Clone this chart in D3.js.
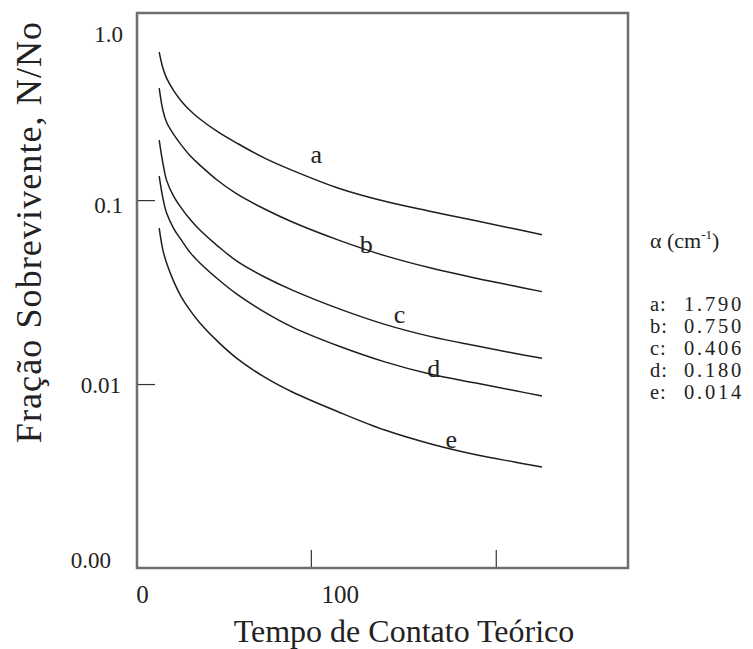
<!DOCTYPE html>
<html>
<head>
<meta charset="utf-8">
<script src="https://cdn.jsdelivr.net/npm/d3@7"></script>
<style>
  body { margin: 0; background: #fff; }
  svg text { font-family: "Liberation Serif", serif; fill: #222; }
</style>
</head>
<body>
<div id="chart"></div>
<script>
// contact time samples (x) shared by every curve
const time = [18, 20, 22, 26, 30, 35, 40, 50, 60, 75, 90, 115, 140, 165, 190, 210, 225];

// surviving fraction N/No
const seriesA = [0.637, 0.522, 0.460, 0.391, 0.345, 0.305, 0.276, 0.234, 0.204, 0.169, 0.145, 0.116, 0.0985, 0.0868, 0.0769, 0.0698, 0.0648];
const seriesB = [0.406, 0.308, 0.265, 0.226, 0.199, 0.173, 0.155, 0.127, 0.108, 0.0894, 0.0760, 0.0606, 0.0499, 0.0427, 0.0375, 0.0341, 0.0318];
const seriesC = [0.212, 0.159, 0.128, 0.104, 0.0905, 0.0779, 0.0687, 0.0559, 0.0466, 0.0382, 0.0324, 0.0257, 0.0211, 0.0181, 0.0161, 0.0147, 0.0138];
const seriesD = [0.135, 0.1025, 0.0850, 0.0696, 0.0606, 0.0515, 0.0455, 0.0370, 0.0308, 0.0246, 0.0204, 0.0161, 0.0132, 0.0113, 0.0101, 0.00922, 0.00861];
const seriesE = [0.0704, 0.0535, 0.0455, 0.0358, 0.0297, 0.0249, 0.0215, 0.0169, 0.0138, 0.0109, 0.00905, 0.00705, 0.00562, 0.00472, 0.00411, 0.00377, 0.00354];

const seriesNames = ["a", "b", "c", "d", "e"];
const alphaValues = ["1.790", "0.750", "0.406", "0.180", "0.014"];

// where each letter sits on its curve (data units)
const labelTime = [103, 130, 148, 166.5, 176];
const labelValue = [0.16, 0.0515, 0.0215, 0.0109, 0.00449];

const yTickValues = [0.1, 0.01];
const yLabelValues = [1, 0.1, 0.01, 0.001];
const yLabelText = ["1.0", "0.1", "0.01", "0.00"];
const xTickValues = [100, 200];
const xLabelValues = [0, 100];

const width = 753, height = 649;
const plot = { left: 137, right: 628, top: 13, bottom: 568 };
const serif = "Liberation Serif";

const x = d3.scaleLinear().domain([6, 271.5]).range([plot.left, plot.right]);
const y = d3.scaleLog().domain([0.001, 1.04]).range([plot.bottom, plot.top]);

const svg = d3.select("#chart").append("svg")
  .attr("width", width)
  .attr("height", height)
  .attr("font-family", serif)
  .style("background", "#fff");

// inward ticks
svg.append("g")
  .attr("transform", `translate(${plot.left},0)`)
  .call(d3.axisRight(y).tickValues(yTickValues).tickSize(18).tickFormat(""))
  .call(g => g.select(".domain").remove())
  .call(g => g.selectAll("line").attr("stroke", "#333").attr("stroke-width", 1.2));

svg.append("g")
  .attr("transform", `translate(0,${plot.bottom})`)
  .call(d3.axisTop(x).tickValues(xTickValues).tickSize(18).tickFormat(""))
  .call(g => g.select(".domain").remove())
  .call(g => g.selectAll("line").attr("stroke", "#333").attr("stroke-width", 1.2));

// tick labels (the scan has them slightly off their ticks)
const yLabelShift = [[0, 18], [0, 5], [2, 1], [12, -8]];
svg.append("g")
  .attr("transform", `translate(${plot.left},0)`)
  .call(d3.axisLeft(y).tickValues(yLabelValues).tickSize(0).tickPadding(14)
    .tickFormat((d, i) => yLabelText[i]))
  .attr("font-family", serif)
  .call(g => g.select(".domain").remove())
  .call(g => g.selectAll("text")
    .attr("font-family", serif)
    .style("font-size", "23px")
    .attr("fill", "#222")
    .attr("transform", (d, i) => `translate(${-yLabelShift[i][0]},${yLabelShift[i][1]})`));

const xLabelShift = [16, 29];
svg.append("g")
  .attr("transform", `translate(0,${plot.bottom})`)
  .call(d3.axisBottom(x).tickValues(xLabelValues).tickSize(0).tickPadding(17))
  .attr("font-family", serif)
  .call(g => g.select(".domain").remove())
  .call(g => g.selectAll("text")
    .attr("font-family", serif)
    .style("font-size", "25px")
    .attr("fill", "#222")
    .attr("transform", (d, i) => `translate(${xLabelShift[i]},0)`));

// frame
svg.append("rect")
  .attr("x", plot.left)
  .attr("y", plot.top)
  .attr("width", plot.right - plot.left)
  .attr("height", plot.bottom - plot.top)
  .attr("fill", "none")
  .attr("stroke", "#6e6e6e")
  .attr("stroke-width", 2.5);

// curves
const allSeries = [seriesA, seriesB, seriesC, seriesD, seriesE];
const line = d3.line()
  .x(d => x(d[0]))
  .y(d => y(d[1]))
  .curve(d3.curveCatmullRom.alpha(0.5));

svg.append("g").selectAll("path")
  .data(allSeries)
  .enter().append("path")
  .attr("d", s => line(time.map((t, i) => [t, s[i]])))
  .attr("fill", "none")
  .attr("stroke", "#1e1e1e")
  .attr("stroke-width", 1.5);

svg.append("g").selectAll("text")
  .data(seriesNames)
  .enter().append("text")
  .attr("x", (d, i) => x(labelTime[i]))
  .attr("y", (d, i) => y(labelValue[i]))
  .attr("text-anchor", "middle")
  .attr("font-family", serif)
  .style("font-size", "26px")
  .text(d => d);

// axis titles
svg.append("text")
  .attr("x", 404)
  .attr("y", 642)
  .attr("text-anchor", "middle")
  .attr("font-family", serif)
  .style("font-size", "32px")
  .text("Tempo de Contato Teórico");

svg.append("text")
  .attr("transform", "translate(41,232) rotate(-90)")
  .attr("text-anchor", "middle")
  .attr("font-family", serif)
  .style("font-size", "36px")
  .style("letter-spacing", "1.1px")
  .text("Fração Sobrevivente, N/No");

// alpha legend
const legend = svg.append("g").attr("transform", "translate(650,0)");

const legendTitle = legend.append("text")
  .attr("x", 0)
  .attr("y", 248)
  .attr("font-family", serif)
  .style("font-size", "22px");
legendTitle.append("tspan").text("α (cm");
legendTitle.append("tspan").attr("dy", -9).style("font-size", "13px").text("-1");
legendTitle.append("tspan").attr("dy", 9).text(")");

const rows = legend.selectAll("g.row")
  .data(seriesNames)
  .enter().append("g")
  .attr("class", "row")
  .attr("transform", (d, i) => `translate(0,${311 + i * 22})`);

rows.append("text")
  .attr("font-family", serif)
  .style("font-size", "20.5px")
  .style("letter-spacing", "1px")
  .text(d => d + ":");

rows.append("text")
  .attr("x", 34)
  .attr("font-family", serif)
  .style("font-size", "20.5px")
  .style("letter-spacing", "2.8px")
  .text((d, i) => alphaValues[i]);
</script>
</body>
</html>
